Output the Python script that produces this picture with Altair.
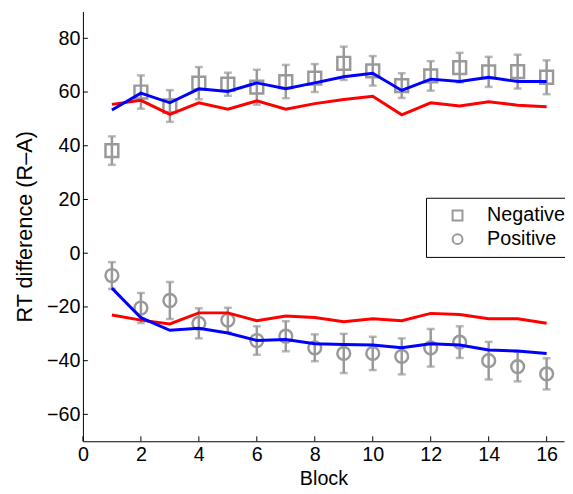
import altair as alt
import pandas as pd

blocks = list(range(1, 17))

neg_mean = [38.2, 60.0, 54.8, 63.3, 62.9, 61.8, 63.9, 65.2, 70.7, 67.9, 62.4, 66.0, 69.1, 67.5, 67.6, 65.5]
neg_err = [5.3, 6.2, 5.9, 6.0, 4.3, 6.5, 6.2, 5.2, 6.2, 5.5, 4.6, 5.5, 5.5, 5.6, 6.3, 6.3]
pos_mean = [-8.3, -20.4, -17.6, -26.1, -24.9, -32.5, -30.9, -35.2, -37.3, -37.3, -38.4, -35.2, -33.1, -40.0, -42.2, -44.9]
pos_err = [5.0, 5.6, 6.9, 5.6, 4.6, 5.3, 5.6, 5.0, 7.3, 6.2, 6.7, 7.0, 5.9, 7.0, 5.5, 5.8]

neg_blue = [53.3, 59.6, 56.0, 61.2, 60.2, 63.4, 61.2, 63.4, 65.7, 67.0, 60.6, 64.8, 63.9, 65.5, 63.9, 63.9]
neg_red = [55.4, 56.9, 51.7, 56.0, 53.6, 56.7, 53.6, 55.7, 57.2, 58.4, 51.5, 56.0, 54.8, 56.4, 55.1, 54.5]
pos_blue = [-13.0, -24.0, -28.7, -27.9, -29.7, -32.5, -32.1, -33.7, -34.0, -34.2, -35.2, -33.7, -34.2, -36.0, -36.4, -37.3]
pos_red = [-23.0, -24.9, -26.3, -22.2, -22.2, -25.1, -23.4, -23.9, -25.5, -24.4, -25.1, -22.4, -22.8, -24.4, -24.4, -26.1]

groups = ["Negative", "Positive"]
x_ticks = [0, 2, 4, 6, 8, 10, 12, 14, 16]
y_ticks = [-60, -40, -20, 0, 20, 40, 60, 80]

GRAY = "#999999"
FONT = "Liberation Sans"
FS = 20

rows = []
for g, m, e, b, r in [(groups[0], neg_mean, neg_err, neg_blue, neg_red),
                      (groups[1], pos_mean, pos_err, pos_blue, pos_red)]:
    for i, blk in enumerate(blocks):
        rows.append({"block": blk, "group": g, "mean": m[i],
                     "lo": m[i] - e[i], "hi": m[i] + e[i],
                     "blue": b[i], "red": r[i]})
df = pd.DataFrame(rows)

xs = alt.Scale(domain=[0, 16.6], nice=False, zero=False)
ys = alt.Scale(domain=[-70, 90], nice=False, zero=False)

xax = alt.Axis(values=x_ticks, title="Block", labelFlush=False, labelOverlap=False,
               labelPadding=4, titlePadding=4)
yax = alt.Axis(values=y_ticks, title="RT difference (R–A)", labelOverlap=False,
               labelPadding=3, titlePadding=10, titleFontSize=22)

base = alt.Chart(df)

bars = base.mark_rule(color=GRAY, strokeWidth=2.5).encode(
    x=alt.X("block:Q", scale=xs, axis=xax),
    y=alt.Y("lo:Q", scale=ys, axis=yax),
    y2="hi:Q",
)
cap_lo = base.mark_tick(color=GRAY, orient="horizontal", size=8, thickness=2.5).encode(
    x=alt.X("block:Q", scale=xs), y=alt.Y("lo:Q", scale=ys))
cap_hi = base.mark_tick(color=GRAY, orient="horizontal", size=8, thickness=2.5).encode(
    x=alt.X("block:Q", scale=xs), y=alt.Y("hi:Q", scale=ys))

pts = base.mark_point(filled=False, color=GRAY, strokeWidth=2.5, size=169, opacity=1).encode(
    x=alt.X("block:Q", scale=xs),
    y=alt.Y("mean:Q", scale=ys),
    shape=alt.Shape("group:N",
                    scale=alt.Scale(domain=groups, range=["square", "circle"]),
                    legend=alt.Legend(title=None, orient="none", legendX=348, legendY=189,
                                      strokeColor="black", fillColor="white", padding=8,
                                      symbolOffset=14, labelOffset=20, rowPadding=4,
                                      symbolSize=100, symbolStrokeWidth=2,
                                      symbolStrokeColor=GRAY, symbolFillColor="transparent",
                                      labelFont=FONT, labelFontSize=FS, labelColor="black",
                                      cornerRadius=0)),
)

blue = base.mark_line(color="#0000FF", strokeWidth=3).encode(
    x=alt.X("block:Q", scale=xs), y=alt.Y("blue:Q", scale=ys), detail="group:N")
red = base.mark_line(color="#FF0000", strokeWidth=3).encode(
    x=alt.X("block:Q", scale=xs), y=alt.Y("red:Q", scale=ys), detail="group:N")

yt = alt.Chart(pd.DataFrame({"v": y_ticks})).mark_rule(color="black", strokeWidth=1).encode(
    y=alt.Y("v:Q", scale=ys), x=alt.value(0), x2=alt.value(5))
xt = alt.Chart(pd.DataFrame({"v": x_ticks})).mark_rule(color="black", strokeWidth=1).encode(
    x=alt.X("v:Q", scale=xs), y=alt.value(436), y2=alt.value(431))

chart = alt.layer(bars, cap_lo, cap_hi, pts, red, blue, yt, xt).properties(
    width=488, height=436, autosize="none",
    padding={"left": 76, "top": 0, "right": 1, "bottom": 50},
).configure_view(stroke=None).configure_axis(
    domainColor="black", domainWidth=1, ticks=False, grid=False,
    labelFont=FONT, labelFontSize=FS, labelColor="black",
    titleFont=FONT, titleFontSize=FS, titleFontWeight="normal", titleColor="black",
)

chart.save("out.html", embed_options={"renderer": "svg", "actions": False})
